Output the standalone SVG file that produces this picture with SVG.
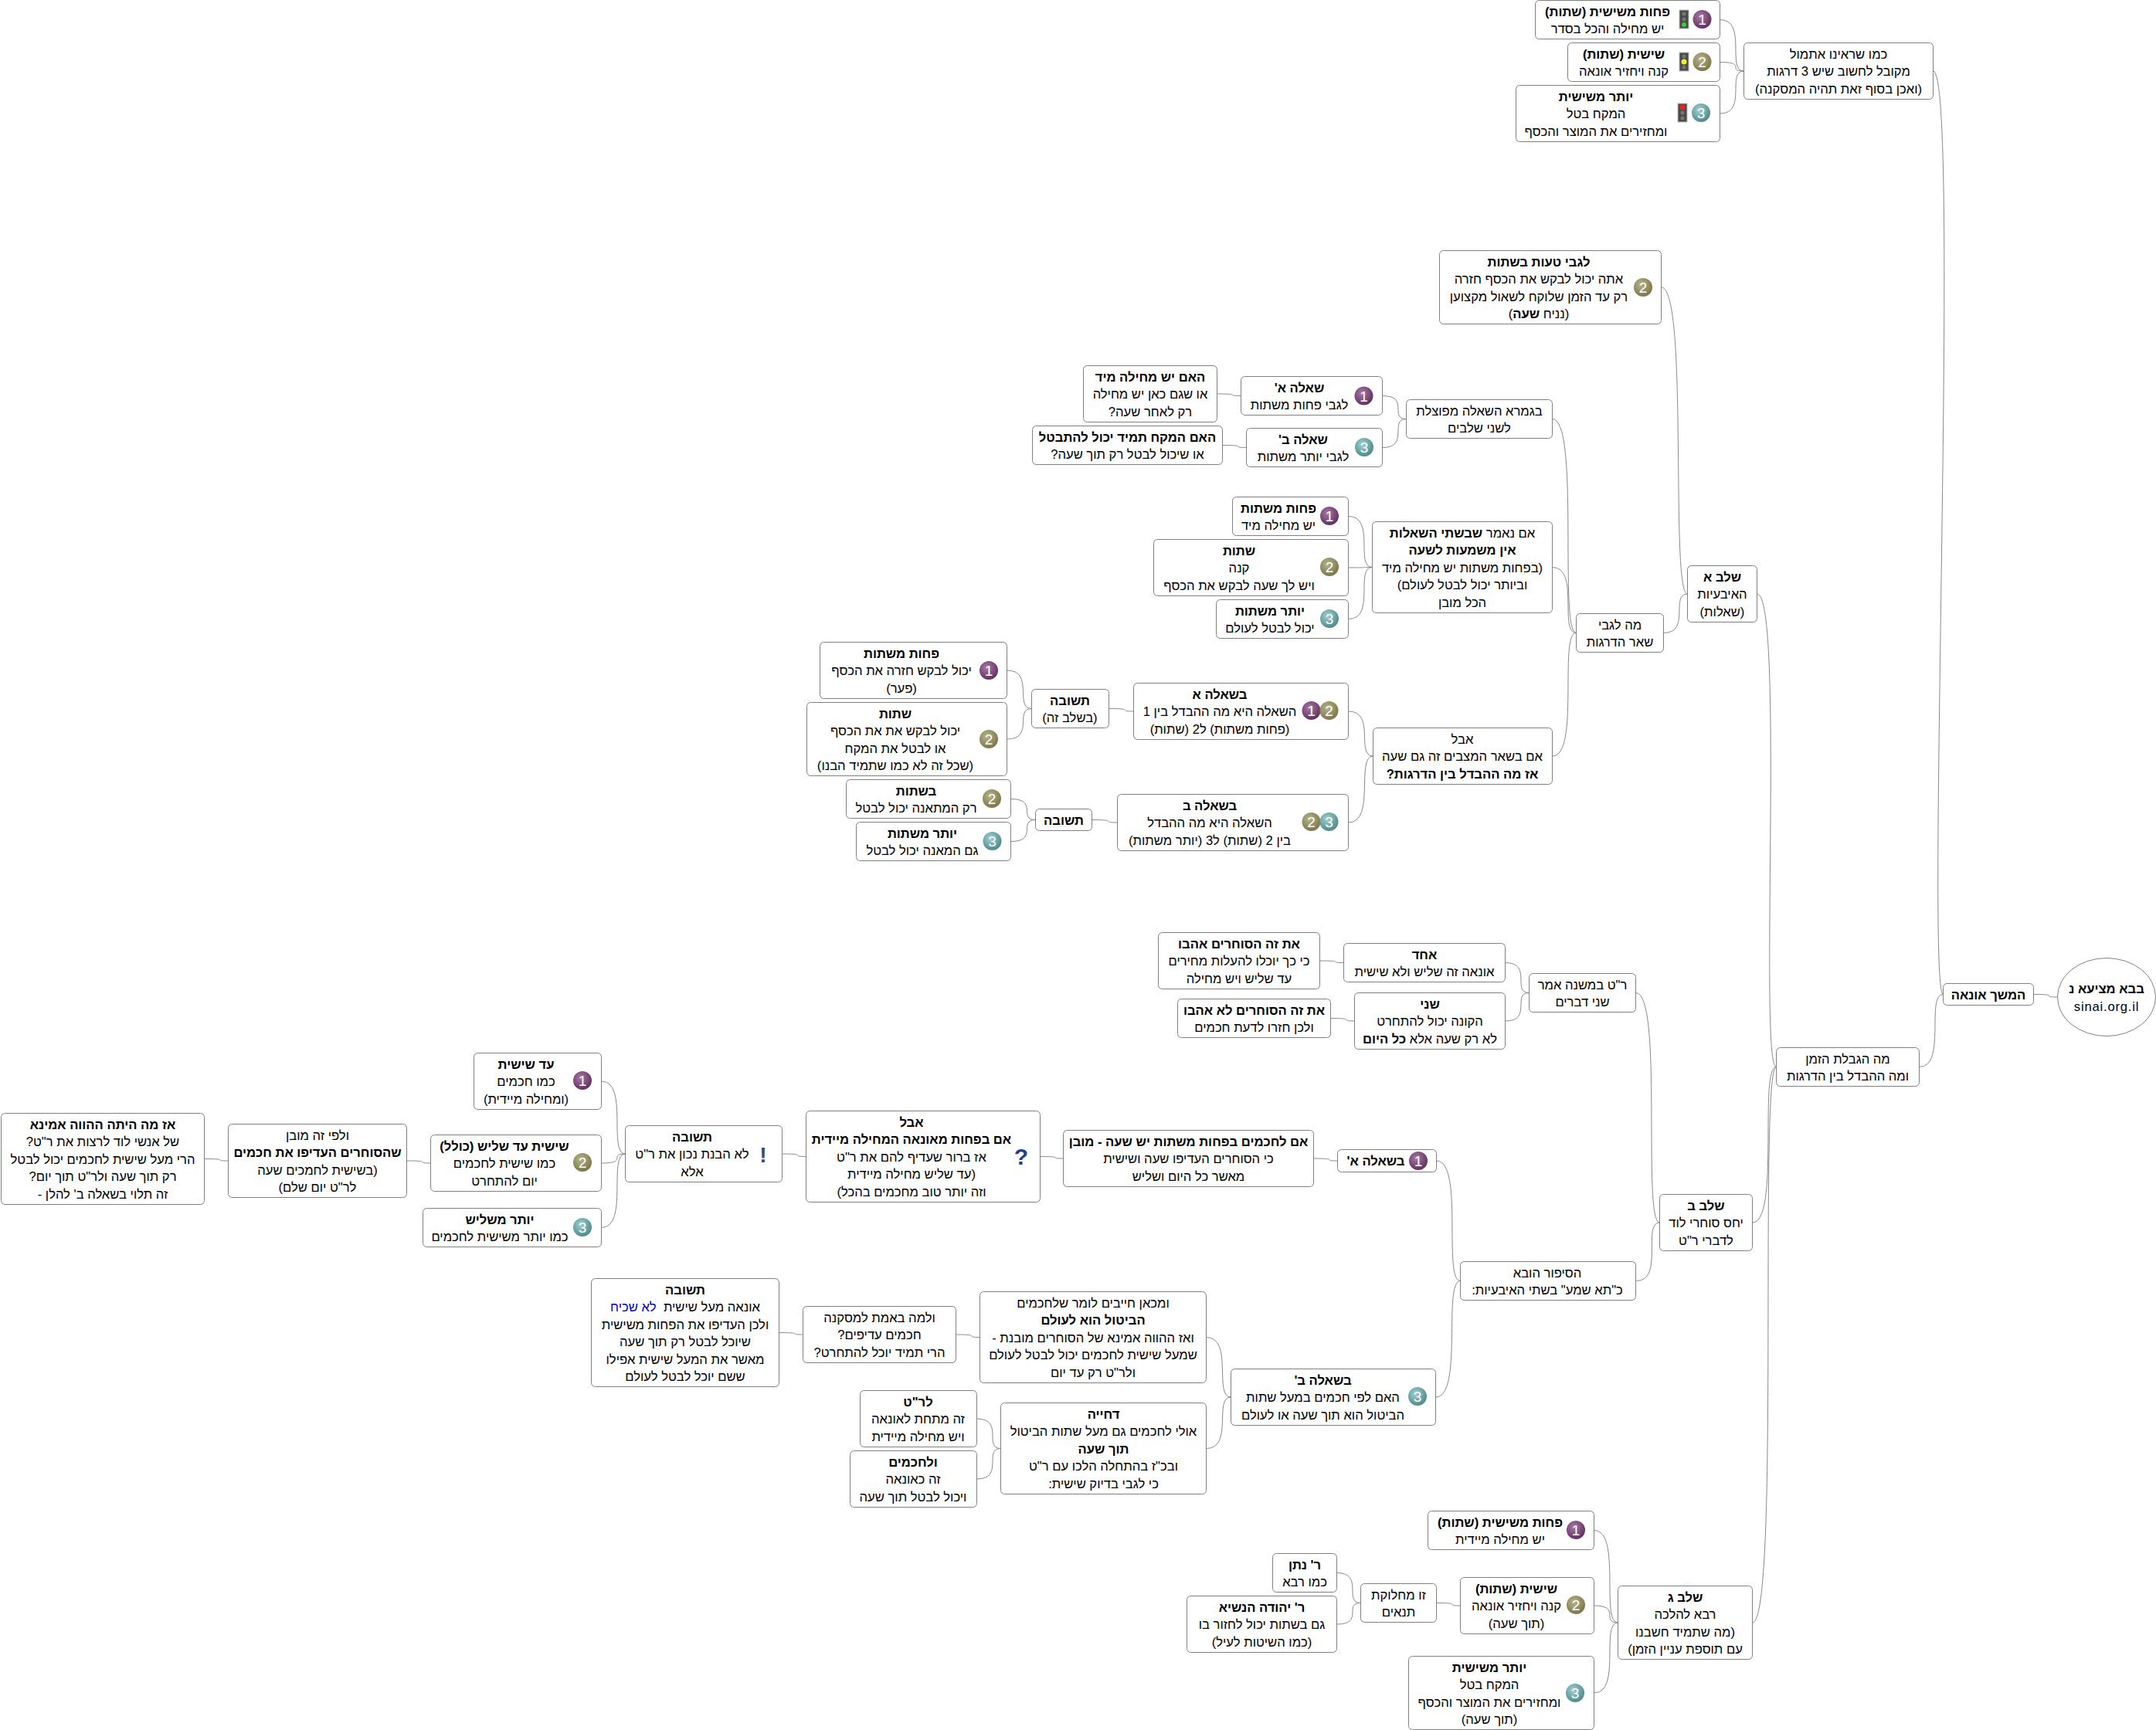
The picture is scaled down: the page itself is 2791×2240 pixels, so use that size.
<svg xmlns="http://www.w3.org/2000/svg" width="2791" height="2240" viewBox="0 0 2791 2240">
<style>
.n{fill:#fff;stroke:#808080;stroke-width:1}
text{font-family:"Liberation Sans",Arial,sans-serif;font-size:16.6px;fill:#000;text-anchor:middle;direction:rtl}
.b{font-weight:bold}
.d{font-size:19px;fill:#fff;direction:ltr}
#edges path{fill:none;stroke:#8a8a8a;stroke-width:1}
.tl{fill:#4a4a4a;stroke:#bbb;stroke-width:1}
.off{fill:#777}
</style>
<defs>
<radialGradient id="p1" cx=".4" cy=".35" r=".7"><stop offset="0" stop-color="#a87aa4"/><stop offset="1" stop-color="#5f2a5d"/></radialGradient>
<radialGradient id="p2" cx=".4" cy=".35" r=".7"><stop offset="0" stop-color="#b8b48c"/><stop offset="1" stop-color="#777344"/></radialGradient>
<radialGradient id="p3" cx=".4" cy=".35" r=".7"><stop offset="0" stop-color="#a4d0d0"/><stop offset="1" stop-color="#468688"/></radialGradient>
</defs>
<g id="edges">
<path d="M2633 1287.5C2669 1287.5 2640 1291 2663 1291"/>
<path d="M2502.5 92C2538.5 92 2492.5 1287.5 2515.5 1287.5"/>
<path d="M2484.5 1381.5C2520.5 1381.5 2492.5 1287.5 2515.5 1287.5"/>
<path d="M2226.5 25.5C2262.5 25.5 2234.5 92 2257.5 92"/>
<path d="M2226.5 80.5C2262.5 80.5 2234.5 92 2257.5 92"/>
<path d="M2226.5 147C2262.5 147 2234.5 92 2257.5 92"/>
<path d="M2274.5 769C2310.5 769 2276.5 1381.5 2299.5 1381.5"/>
<path d="M2268.5 1583C2304.5 1583 2276.5 1381.5 2299.5 1381.5"/>
<path d="M2268.5 2101C2304.5 2101 2276.5 1381.5 2299.5 1381.5"/>
<path d="M2150.5 372C2186.5 372 2161.5 769 2184.5 769"/>
<path d="M2153.5 819.5C2189.5 819.5 2161.5 769 2184.5 769"/>
<path d="M2009.5 542.5C2045.5 542.5 2017.5 819.5 2040.5 819.5"/>
<path d="M2009.5 734.5C2045.5 734.5 2017.5 819.5 2040.5 819.5"/>
<path d="M2009.5 979C2045.5 979 2017.5 819.5 2040.5 819.5"/>
<path d="M1789.5 512.5C1825.5 512.5 1797.5 542.5 1820.5 542.5"/>
<path d="M1789.5 579.5C1825.5 579.5 1797.5 542.5 1820.5 542.5"/>
<path d="M1575.5 510C1611.5 510 1583.5 512.5 1606.5 512.5"/>
<path d="M1582.5 576.5C1618.5 576.5 1590.5 579.5 1613.5 579.5"/>
<path d="M1745.5 668.5C1781.5 668.5 1753.5 734.5 1776.5 734.5"/>
<path d="M1745.5 735C1781.5 735 1753.5 734.5 1776.5 734.5"/>
<path d="M1745.5 801.5C1781.5 801.5 1753.5 734.5 1776.5 734.5"/>
<path d="M1745.5 921C1781.5 921 1754.5 979 1777.5 979"/>
<path d="M1745.5 1065C1781.5 1065 1754.5 979 1777.5 979"/>
<path d="M1435.5 917.5C1471.5 917.5 1444.5 921 1467.5 921"/>
<path d="M1413.5 1061.5C1449.5 1061.5 1423.5 1065 1446.5 1065"/>
<path d="M1303.5 868C1339.5 868 1312.5 917.5 1335.5 917.5"/>
<path d="M1303.5 957C1339.5 957 1312.5 917.5 1335.5 917.5"/>
<path d="M1308.5 1034.5C1344.5 1034.5 1317.5 1061.5 1340.5 1061.5"/>
<path d="M1308.5 1089.5C1344.5 1089.5 1317.5 1061.5 1340.5 1061.5"/>
<path d="M2117.5 1285.5C2153.5 1285.5 2125.5 1583 2148.5 1583"/>
<path d="M2118.5 1658.5C2154.5 1658.5 2125.5 1583 2148.5 1583"/>
<path d="M1948.5 1246.5C1984.5 1246.5 1956.5 1285.5 1979.5 1285.5"/>
<path d="M1948.5 1322C1984.5 1322 1956.5 1285.5 1979.5 1285.5"/>
<path d="M1708.5 1244C1744.5 1244 1716.5 1246.5 1739.5 1246.5"/>
<path d="M1722.5 1318.5C1758.5 1318.5 1730.5 1322 1753.5 1322"/>
<path d="M1859.5 1503C1895.5 1503 1867.5 1658.5 1890.5 1658.5"/>
<path d="M1858.5 1809C1894.5 1809 1867.5 1658.5 1890.5 1658.5"/>
<path d="M1700.5 1500C1736.5 1500 1708.5 1503 1731.5 1503"/>
<path d="M1346.5 1497.5C1382.5 1497.5 1353.5 1500 1376.5 1500"/>
<path d="M1012.5 1494C1048.5 1494 1020.5 1497.5 1043.5 1497.5"/>
<path d="M778.5 1400C814.5 1400 786.5 1494 809.5 1494"/>
<path d="M778.5 1506C814.5 1506 786.5 1494 809.5 1494"/>
<path d="M778.5 1589.5C814.5 1589.5 786.5 1494 809.5 1494"/>
<path d="M526.5 1503C562.5 1503 534.5 1506 557.5 1506"/>
<path d="M264.5 1500.5C300.5 1500.5 272.5 1503 295.5 1503"/>
<path d="M1561.5 1731.5C1597.5 1731.5 1570.5 1809 1593.5 1809"/>
<path d="M1561.5 1875.5C1597.5 1875.5 1570.5 1809 1593.5 1809"/>
<path d="M1237.5 1728C1273.5 1728 1245.5 1731.5 1268.5 1731.5"/>
<path d="M1008.5 1725.5C1044.5 1725.5 1016.5 1728 1039.5 1728"/>
<path d="M1264.5 1837C1300.5 1837 1272.5 1875.5 1295.5 1875.5"/>
<path d="M1264.5 1915C1300.5 1915 1272.5 1875.5 1295.5 1875.5"/>
<path d="M2063.5 1981.5C2099.5 1981.5 2071.5 2101 2094.5 2101"/>
<path d="M2063.5 2079C2099.5 2079 2071.5 2101 2094.5 2101"/>
<path d="M2063.5 2192C2099.5 2192 2071.5 2101 2094.5 2101"/>
<path d="M1859.5 2075.5C1895.5 2075.5 1867.5 2079 1890.5 2079"/>
<path d="M1730.5 2036.5C1766.5 2036.5 1738.5 2075.5 1761.5 2075.5"/>
<path d="M1730.5 2103C1766.5 2103 1738.5 2075.5 1761.5 2075.5"/>
</g>
<g id="root"><ellipse class="n" cx="2727" cy="1291" rx="63.5" ry="50.5"/><text class="b" x="2727" y="1286">בבא מציעא נ</text><text x="2727" y="1309" style="direction:ltr;letter-spacing:.8px">sinai.org.il</text></g>
<g id="cont"><rect class="n" x="2515.5" y="1273.5" width="117" height="28" rx="5"/><text class="b" x="2574" y="1293.5">המשך אונאה</text></g>
<g id="n0"><rect class="n" x="2257.5" y="55.5" width="245" height="73" rx="5"/><text x="2380" y="75.5">כמו שראינו אתמול</text><text x="2380" y="98">מקובל לחשוב שיש 3 דרגות</text><text x="2380" y="120.5">(ואכן בסוף זאת תהיה המסקנה)</text></g>
<g id="n1"><rect class="n" x="1987.5" y="0.5" width="239" height="50" rx="5"/><circle cx="2203.5" cy="25" r="12" fill="url(#p1)"/><text class="d" x="2203.5" y="32">1</text><rect class="tl" x="2174" y="13" width="12" height="24"/><circle class="off" cx="2180" cy="18" r="2.5"/><circle class="off" cx="2180" cy="25" r="2.5"/><circle cx="2180" cy="32" r="3" fill="#2fd42f"/><text class="b" x="2081" y="20.5">פחות משישית (שתות)</text><text x="2081" y="43">יש מחילה והכל בסדר</text></g>
<g id="n2"><rect class="n" x="2029.5" y="55.5" width="197" height="50" rx="5"/><circle cx="2203.5" cy="80" r="12" fill="url(#p2)"/><text class="d" x="2203.5" y="87">2</text><rect class="tl" x="2174" y="68" width="12" height="24"/><circle class="off" cx="2180" cy="73" r="2.5"/><circle cx="2180" cy="80" r="3.5" fill="#f2ee30"/><circle class="off" cx="2180" cy="87" r="2.5"/><text class="b" x="2102" y="75.5">שישית (שתות)</text><text x="2102" y="98">קנה ויחזיר אונאה</text></g>
<g id="n3"><rect class="n" x="1962.5" y="110.5" width="264" height="73" rx="5"/><circle cx="2202" cy="146" r="12" fill="url(#p3)"/><text class="d" x="2202" y="153">3</text><rect class="tl" x="2172" y="134" width="12" height="24"/><circle cx="2178" cy="139" r="3.5" fill="#f22020"/><circle class="off" cx="2178" cy="146" r="2.5"/><circle class="off" cx="2178" cy="153" r="2.5"/><text class="b" x="2066" y="130.5">יותר משישית</text><text x="2066" y="153">המקח בטל</text><text x="2066" y="175.5">ומחזירים את המוצר והכסף</text></g>
<g id="limit"><rect class="n" x="2299.5" y="1356.5" width="185" height="50" rx="5"/><text x="2392" y="1376.5">מה הגבלת הזמן</text><text x="2392" y="1399">ומה ההבדל בין הדרגות</text></g>
<g id="a"><rect class="n" x="2184.5" y="732.5" width="90" height="73" rx="5"/><text class="b" x="2229.5" y="752.5">שלב א</text><text x="2229.5" y="775">האיבעיות</text><text x="2229.5" y="797.5">(שאלות)</text></g>
<g id="a1"><rect class="n" x="1863.5" y="324.5" width="287" height="95" rx="5"/><circle cx="2127" cy="372" r="12" fill="url(#p2)"/><text class="d" x="2127" y="379">2</text><text class="b" x="1992" y="344.5">לגבי טעות בשתות</text><text x="1992" y="367">אתה יכול לבקש את הכסף חזרה</text><text x="1992" y="389.5">רק עד הזמן שלוקח לשאול מקצוען</text><text x="1992" y="412">(נניח <tspan class="b">שעה</tspan>)</text></g>
<g id="a2"><rect class="n" x="2040.5" y="794.5" width="113" height="50" rx="5"/><text x="2097" y="814.5">מה לגבי</text><text x="2097" y="837">שאר הדרגות</text></g>
<g id="a21"><rect class="n" x="1820.5" y="517.5" width="189" height="50" rx="5"/><text x="1915" y="537.5">בגמרא השאלה מפוצלת</text><text x="1915" y="560">לשני שלבים</text></g>
<g id="q1"><rect class="n" x="1606.5" y="487.5" width="183" height="50" rx="5"/><circle cx="1765.5" cy="512.5" r="12" fill="url(#p1)"/><text class="d" x="1765.5" y="519.5">1</text><text class="b" x="1682" y="507.5">שאלה א'</text><text x="1682" y="530">לגבי פחות משתות</text></g>
<g id="q2"><rect class="n" x="1613.5" y="554.5" width="176" height="50" rx="5"/><circle cx="1766" cy="579" r="12" fill="url(#p3)"/><text class="d" x="1766" y="586">3</text><text class="b" x="1687" y="574.5">שאלה ב'</text><text x="1687" y="597">לגבי יותר משתות</text></g>
<g id="q1a"><rect class="n" x="1402.5" y="473.5" width="173" height="73" rx="5"/><text class="b" x="1489" y="493.5">האם יש מחילה מיד</text><text x="1489" y="516">או שגם כאן יש מחילה</text><text x="1489" y="538.5">רק לאחר שעה?</text></g>
<g id="q2a"><rect class="n" x="1336.5" y="551.5" width="246" height="50" rx="5"/><text class="b" x="1459.5" y="571.5">האם המקח תמיד יכול להתבטל</text><text x="1459.5" y="594">או שיכול לבטל רק תוך שעה?</text></g>
<g id="a22"><rect class="n" x="1776.5" y="675.5" width="233" height="118" rx="5"/><text x="1893" y="695.5">אם נאמר <tspan class="b">שבשתי השאלות</tspan></text><text class="b" x="1893" y="718">אין משמעות לשעה</text><text x="1893" y="740.5">(בפחות משתות יש מחילה מיד</text><text x="1893" y="763">וביותר יכול לבטל לעולם)</text><text x="1893" y="785.5">הכל מובן</text></g>
<g id="p1n"><rect class="n" x="1595.5" y="643.5" width="150" height="50" rx="5"/><circle cx="1721" cy="668" r="12" fill="url(#p1)"/><text class="d" x="1721" y="675">1</text><text class="b" x="1655" y="663.5">פחות משתות</text><text x="1655" y="686">יש מחילה מיד</text></g>
<g id="p2n"><rect class="n" x="1493.5" y="698.5" width="252" height="73" rx="5"/><circle cx="1721" cy="734" r="12" fill="url(#p2)"/><text class="d" x="1721" y="741">2</text><text class="b" x="1604" y="718.5">שתות</text><text x="1604" y="741">קנה</text><text x="1604" y="763.5">ויש לך שעה לבקש את הכסף</text></g>
<g id="p3n"><rect class="n" x="1574.5" y="776.5" width="171" height="50" rx="5"/><circle cx="1721" cy="801" r="12" fill="url(#p3)"/><text class="d" x="1721" y="808">3</text><text class="b" x="1644" y="796.5">יותר משתות</text><text x="1644" y="819">יכול לבטל לעולם</text></g>
<g id="a23"><rect class="n" x="1777.5" y="942.5" width="232" height="73" rx="5"/><text x="1893" y="962.5">אבל</text><text x="1893" y="985">אם בשאר המצבים זה גם שעה</text><text class="b" x="1893" y="1007.5">אז מה ההבדל בין הדרגות?</text></g>
<g id="b1"><rect class="n" x="1467.5" y="884.5" width="278" height="73" rx="5"/><circle cx="1697.5" cy="920" r="12" fill="url(#p1)"/><text class="d" x="1697.5" y="927">1</text><circle cx="1720.5" cy="920" r="12" fill="url(#p2)"/><text class="d" x="1720.5" y="927">2</text><text class="b" x="1579" y="904.5">בשאלה א</text><text x="1579" y="927">השאלה היא מה ההבדל בין 1</text><text x="1579" y="949.5">(פחות משתות) ל2 (שתות)</text></g>
<g id="b2"><rect class="n" x="1446.5" y="1028.5" width="299" height="73" rx="5"/><circle cx="1697.5" cy="1064" r="12" fill="url(#p2)"/><text class="d" x="1697.5" y="1071">2</text><circle cx="1720.5" cy="1064" r="12" fill="url(#p3)"/><text class="d" x="1720.5" y="1071">3</text><text class="b" x="1566" y="1048.5">בשאלה ב</text><text x="1566" y="1071">השאלה היא מה ההבדל</text><text x="1566" y="1093.5">בין 2 (שתות) ל3 (יותר משתות)</text></g>
<g id="t1"><rect class="n" x="1335.5" y="892.5" width="100" height="50" rx="5"/><text class="b" x="1385" y="912.5">תשובה</text><text x="1385" y="935">(בשלב זה)</text></g>
<g id="t2"><rect class="n" x="1340.5" y="1047.5" width="73" height="28" rx="5"/><text class="b" x="1377" y="1067.5">תשובה</text></g>
<g id="t11"><rect class="n" x="1061.5" y="831.5" width="242" height="73" rx="5"/><circle cx="1280" cy="868" r="12" fill="url(#p1)"/><text class="d" x="1280" y="875">1</text><text class="b" x="1167" y="851.5">פחות משתות</text><text x="1167" y="874">יכול לבקש חזרה את הכסף</text><text x="1167" y="896.5">(פער)</text></g>
<g id="t12"><rect class="n" x="1044.5" y="909.5" width="259" height="95" rx="5"/><circle cx="1280" cy="957" r="12" fill="url(#p2)"/><text class="d" x="1280" y="964">2</text><text class="b" x="1159" y="929.5">שתות</text><text x="1159" y="952">יכול לבקש את את הכסף</text><text x="1159" y="974.5">או לבטל את המקח</text><text x="1159" y="997">(שכל זה לא כמו שתמיד הבנו)</text></g>
<g id="t21"><rect class="n" x="1095.5" y="1009.5" width="213" height="50" rx="5"/><circle cx="1284" cy="1034" r="12" fill="url(#p2)"/><text class="d" x="1284" y="1041">2</text><text class="b" x="1186" y="1029.5">בשתות</text><text x="1186" y="1052">רק המתאנה יכול לבטל</text></g>
<g id="t22"><rect class="n" x="1108.5" y="1064.5" width="200" height="50" rx="5"/><circle cx="1284.5" cy="1089" r="12" fill="url(#p3)"/><text class="d" x="1284.5" y="1096">3</text><text class="b" x="1194" y="1084.5">יותר משתות</text><text x="1194" y="1107">גם המאנה יכול לבטל</text></g>
<g id="b"><rect class="n" x="2148.5" y="1546.5" width="120" height="73" rx="5"/><text class="b" x="2208.5" y="1566.5">שלב ב</text><text x="2208.5" y="1589">יחס סוחרי לוד</text><text x="2208.5" y="1611.5">לדברי ר"ט</text></g>
<g id="bm"><rect class="n" x="1979.5" y="1260.5" width="138" height="50" rx="5"/><text x="2048.5" y="1280.5">ר"ט במשנה אמר</text><text x="2048.5" y="1303">שני דברים</text></g>
<g id="m1"><rect class="n" x="1739.5" y="1221.5" width="209" height="50" rx="5"/><text class="b" x="1844" y="1241.5">אחד</text><text x="1844" y="1264">אונאה זה שליש ולא שישית</text></g>
<g id="m2"><rect class="n" x="1753.5" y="1285.5" width="195" height="73" rx="5"/><text class="b" x="1851" y="1305.5">שני</text><text x="1851" y="1328">הקונה יכול להתחרט</text><text x="1851" y="1350.5">לא רק שעה אלא <tspan class="b">כל היום</tspan></text></g>
<g id="m1a"><rect class="n" x="1499.5" y="1207.5" width="209" height="73" rx="5"/><text class="b" x="1604" y="1227.5">את זה הסוחרים אהבו</text><text x="1604" y="1250">כי כך יוכלו להעלות מחירים</text><text x="1604" y="1272.5">עד שליש ויש מחילה</text></g>
<g id="m2a"><rect class="n" x="1524.5" y="1293.5" width="198" height="50" rx="5"/><text class="b" x="1623.5" y="1313.5">את זה הסוחרים לא אהבו</text><text x="1623.5" y="1336">ולכן חזרו לדעת חכמים</text></g>
<g id="story"><rect class="n" x="1890.5" y="1633.5" width="227" height="50" rx="5"/><text x="2003" y="1653.5">הסיפור הובא</text><text x="2003" y="1676">כ"תא שמע" בשתי האיבעיות:</text></g>
<g id="sq1"><rect class="n" x="1731.5" y="1488.5" width="128" height="29" rx="5"/><circle cx="1836" cy="1503" r="12" fill="url(#p1)"/><text class="d" x="1836" y="1510">1</text><text class="b" x="1781" y="1508.5">בשאלה א'</text></g>
<g id="sq1a"><rect class="n" x="1376.5" y="1463.5" width="324" height="73" rx="5"/><text class="b" x="1538.5" y="1483.5">אם לחכמים בפחות משתות יש שעה - מובן</text><text x="1538.5" y="1506">כי הסוחרים העדיפו שעה ושישית</text><text x="1538.5" y="1528.5">מאשר כל היום ושליש</text></g>
<g id="aval"><rect class="n" x="1043.5" y="1438.5" width="303" height="118" rx="5"/><text class="b" style="font-size:30px;fill:#23408c;direction:ltr" x="1322" y="1508">?</text><text class="b" x="1180" y="1458.5">אבל</text><text class="b" x="1180" y="1481">אם בפחות מאונאה המחילה מיידית</text><text x="1180" y="1503.5">אז ברור שעדיף להם את ר"ט</text><text x="1180" y="1526">(עד שליש מחילה מיידית</text><text x="1180" y="1548.5">וזה יותר טוב מחכמים בהכל)</text></g>
<g id="ans"><rect class="n" x="809.5" y="1457.5" width="203" height="73" rx="5"/><text class="b" style="font-size:28px;fill:#23508c;direction:ltr" x="988" y="1505">!</text><text class="b" x="896" y="1477.5">תשובה</text><text x="896" y="1500">לא הבנת נכון את ר"ט</text><text x="896" y="1522.5">אלא</text></g>
<g id="s1"><rect class="n" x="613.5" y="1363.5" width="165" height="73" rx="5"/><circle cx="754" cy="1399" r="12" fill="url(#p1)"/><text class="d" x="754" y="1406">1</text><text class="b" x="681" y="1383.5">עד שישית</text><text x="681" y="1406">כמו חכמים</text><text x="681" y="1428.5">(ומחילה מיידית)</text></g>
<g id="s2"><rect class="n" x="557.5" y="1469.5" width="221" height="73" rx="5"/><circle cx="754" cy="1505" r="12" fill="url(#p2)"/><text class="d" x="754" y="1512">2</text><text class="b" x="653" y="1489.5">שישית עד שליש (כולל)</text><text x="653" y="1512">כמו שישית לחכמים</text><text x="653" y="1534.5">יום להתחרט</text></g>
<g id="s3"><rect class="n" x="547.5" y="1564.5" width="231" height="50" rx="5"/><circle cx="754" cy="1589" r="12" fill="url(#p3)"/><text class="d" x="754" y="1596">3</text><text class="b" x="647" y="1584.5">יותר משליש</text><text x="647" y="1607">כמו יותר משישית לחכמים</text></g>
<g id="s2a"><rect class="n" x="295.5" y="1455.5" width="231" height="95" rx="5"/><text x="411" y="1475.5">ולפי זה מובן</text><text class="b" x="411" y="1498">שהסוחרים העדיפו את חכמים</text><text x="411" y="1520.5">(בשישית לחמכים שעה</text><text x="411" y="1543">לר"ט יום שלם)</text></g>
<g id="s2b"><rect class="n" x="1.5" y="1441.5" width="263" height="118" rx="5"/><text class="b" x="133" y="1461.5">אז מה היתה ההווה אמינא</text><text x="133" y="1484">של אנשי לוד לרצות את ר"ט?</text><text x="133" y="1506.5">הרי מעל שישית לחכמים יכול לבטל</text><text x="133" y="1529">רק תוך שעה ולר"ט תוך יום?</text><text x="133" y="1551.5">זה תלוי בשאלה ב' להלן -</text></g>
<g id="sq2"><rect class="n" x="1593.5" y="1772.5" width="265" height="73" rx="5"/><circle cx="1835" cy="1808" r="12" fill="url(#p3)"/><text class="d" x="1835" y="1815">3</text><text class="b" x="1712.5" y="1792.5">בשאלה ב'</text><text x="1712.5" y="1815">האם לפי חכמים במעל שתות</text><text x="1712.5" y="1837.5">הביטול הוא תוך שעה או לעולם</text></g>
<g id="mk"><rect class="n" x="1268.5" y="1672.5" width="293" height="118" rx="5"/><text x="1415" y="1692.5">ומכאן חייבים לומר שלחכמים</text><text class="b" x="1415" y="1715">הביטול הוא לעולם</text><text x="1415" y="1737.5">ואז ההווה אמינא של הסוחרים מובנת -</text><text x="1415" y="1760">שמעל שישית לחכמים יכול לבטל לעולם</text><text x="1415" y="1782.5">ולר"ט רק עד יום</text></g>
<g id="lm"><rect class="n" x="1039.5" y="1691.5" width="198" height="73" rx="5"/><text x="1138.5" y="1711.5">ולמה באמת למסקנה</text><text x="1138.5" y="1734">חכמים עדיפים?</text><text x="1138.5" y="1756.5">הרי תמיד יוכל להתחרט?</text></g>
<g id="la"><rect class="n" x="765.5" y="1655.5" width="243" height="140" rx="5"/><text class="b" x="887" y="1675.5">תשובה</text><text x="887" y="1698" xml:space="preserve">אונאה מעל שישית  <tspan style="fill:#0000d0">לא שכיח</tspan></text><text x="887" y="1720.5">ולכן העדיפו את הפחות משישית</text><text x="887" y="1743">שיוכל לבטל רק תוך שעה</text><text x="887" y="1765.5">מאשר את המעל שישית אפילו</text><text x="887" y="1788">ששם יוכל לבטל לעולם</text></g>
<g id="dh"><rect class="n" x="1295.5" y="1816.5" width="266" height="118" rx="5"/><text class="b" x="1428.5" y="1836.5">דחייה</text><text x="1428.5" y="1859">אולי לחכמים גם מעל שתות הביטול</text><text class="b" x="1428.5" y="1881.5">תוך שעה</text><text x="1428.5" y="1904">ובכ"ז בהתחלה הלכו עם ר"ט</text><text x="1428.5" y="1926.5">כי לגבי בדיוק שישית:</text></g>
<g id="dh1"><rect class="n" x="1113.5" y="1800.5" width="151" height="73" rx="5"/><text class="b" x="1188.5" y="1820.5">לר"ט</text><text x="1188.5" y="1843">זה מתחת לאונאה</text><text x="1188.5" y="1865.5">ויש מחילה מיידית</text></g>
<g id="dh2"><rect class="n" x="1100.5" y="1878.5" width="164" height="73" rx="5"/><text class="b" x="1182" y="1898.5">ולחכמים</text><text x="1182" y="1921">זה כאונאה</text><text x="1182" y="1943.5">ויכול לבטל תוך שעה</text></g>
<g id="g"><rect class="n" x="2094.5" y="2053.5" width="174" height="95" rx="5"/><text class="b" x="2181.5" y="2073.5">שלב ג</text><text x="2181.5" y="2096">רבא להלכה</text><text x="2181.5" y="2118.5">(מה שתמיד חשבנו</text><text x="2181.5" y="2141">עם תוספת עניין הזמן)</text></g>
<g id="g1"><rect class="n" x="1848.5" y="1956.5" width="215" height="50" rx="5"/><circle cx="2040" cy="1981" r="12" fill="url(#p1)"/><text class="d" x="2040" y="1988">1</text><text class="b" x="1942" y="1976.5">פחות משישית (שתות)</text><text x="1942" y="1999">יש מחילה מיידית</text></g>
<g id="g2"><rect class="n" x="1890.5" y="2042.5" width="173" height="73" rx="5"/><circle cx="2040" cy="2078" r="12" fill="url(#p2)"/><text class="d" x="2040" y="2085">2</text><text class="b" x="1963" y="2062.5">שישית (שתות)</text><text x="1963" y="2085">קנה ויחזיר אונאה</text><text x="1963" y="2107.5">(תוך שעה)</text></g>
<g id="g3"><rect class="n" x="1823.5" y="2144.5" width="240" height="95" rx="5"/><circle cx="2039" cy="2192" r="12" fill="url(#p3)"/><text class="d" x="2039" y="2199">3</text><text class="b" x="1928" y="2164.5">יותר משישית</text><text x="1928" y="2187">המקח בטל</text><text x="1928" y="2209.5">ומחזירים את המוצר והכסף</text><text x="1928" y="2232">(תוך שעה)</text></g>
<g id="mc"><rect class="n" x="1761.5" y="2050.5" width="98" height="50" rx="5"/><text x="1810.5" y="2070.5">זו מחלוקת</text><text x="1810.5" y="2093">תנאים</text></g>
<g id="r1"><rect class="n" x="1647.5" y="2011.5" width="83" height="50" rx="5"/><text class="b" x="1689" y="2031.5">ר' נתן</text><text x="1689" y="2054">כמו רבא</text></g>
<g id="r2"><rect class="n" x="1536.5" y="2066.5" width="194" height="73" rx="5"/><text class="b" x="1633.5" y="2086.5">ר' יהודה הנשיא</text><text x="1633.5" y="2109">גם בשתות יכול לחזור בו</text><text x="1633.5" y="2131.5">(כמו השיטות לעיל)</text></g>
</svg>
